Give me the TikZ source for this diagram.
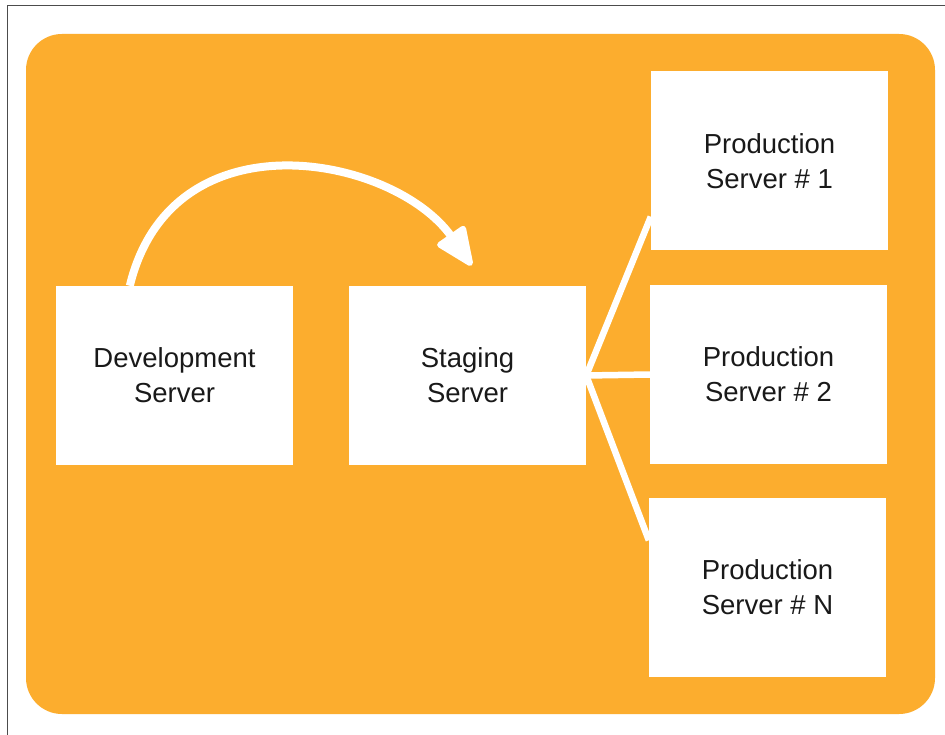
\documentclass[tikz,border=0pt]{standalone}
\usepackage{fontspec}
\setmainfont{Liberation Sans}
\usetikzlibrary{calc}
\definecolor{orangebg}{RGB}{252,173,46}
\tikzset{
  srvbox/.style={fill=white, draw=none, minimum width=237pt, minimum height=179pt, inner sep=0pt,
    align=center, font=\fontsize{27.5}{35}\selectfont, text=black!90},
  link/.style={white, line width=6.5pt},
  flow/.style={white, line width=8pt},
  headtip/.style={fill=white, draw=white, line width=6pt, line join=round}
}
\begin{document}
\begin{tikzpicture}[x=1pt,y=-1pt]
\useasboundingbox (0,0) rectangle (945,735);
\fill[white] (0,0) rectangle (945,735);
\draw[black!70, line width=1.3pt] (7.5,740) -- (7.5,5.5) -- (950,5.5);
\fill[orangebg, rounded corners=36pt] (26,34) rectangle (935,714);

\node[srvbox] (dev) at (174.5,375.5) {Development\\Server};
\node[srvbox] (stg) at (467.5,375.5) {Staging\\Server};
\node[srvbox] (p1) at (769.5,161) {Production\\Server \# 1};
\node[srvbox] (p2) at (768.5,374.5) {Production\\Server \# 2};
\node[srvbox] (pn) at (767.5,587) {Production\\Server \# N};

\coordinate (hub) at ($(stg.east)+(0,0)$);
\coordinate (e1) at ($(p1.south west)+(0,-34)$);
\coordinate (en) at ($(pn.north west)+(0,43)$);
\coordinate (arcstart) at ($(dev.north west)+(74,0)$);
\coordinate (tip) at (470,263);
\coordinate (base) at (451.6,236.8);
\coordinate (cornerA) at (463.1,228.8);
\coordinate (cornerB) at (440.1,244.8);

\draw[link] (hub) -- (e1);
\draw[link] (hub) -- (p2.west);
\draw[link] (hub) -- (en);

\draw[flow] (arcstart) .. controls (172,112) and (394,155) .. (base);
\filldraw[headtip] (tip) -- (cornerA) -- (cornerB) -- cycle;
\end{tikzpicture}
\end{document}
